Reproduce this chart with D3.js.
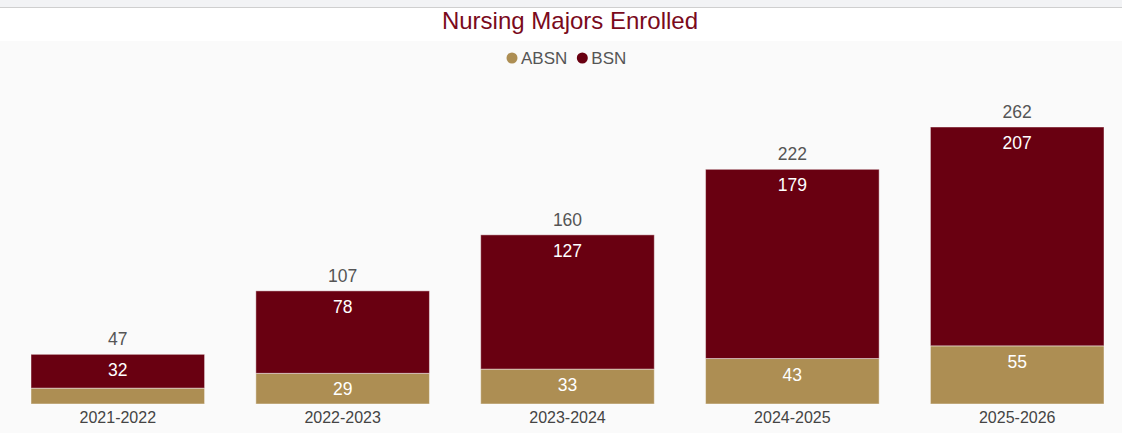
<!DOCTYPE html>
<html>
<head>
<meta charset="utf-8">
<script src="https://cdn.jsdelivr.net/npm/d3@7"></script>
<style>
  body { margin: 0; background: #fff; font-family: "Liberation Sans", Arial, sans-serif; }
</style>
</head>
<body>
<div id="chart"></div>
<script>
// chart data
const years = ["2021-2022", "2022-2023", "2023-2024", "2024-2025", "2025-2026"];
const absn = [15, 29, 33, 43, 55];
const bsn = [32, 78, 127, 179, 207];
const seriesNames = ["ABSN", "BSN"];
const seriesColors = ["#ad8e53", "#690011"];

const W = 1122, H = 433;
const baseY = 404;

const svg = d3.select("#chart")
    .append("svg")
    .attr("width", W)
    .attr("height", H);

// backgrounds
svg.append("rect").attr("x", 0).attr("y", 0).attr("width", W).attr("height", 7).attr("fill", "#f2f3f5");
svg.append("line").attr("x1", 0).attr("x2", W).attr("y1", 7.5).attr("y2", 7.5).attr("stroke", "#cfcfcf");
svg.append("rect").attr("x", 0).attr("y", 8).attr("width", W).attr("height", 33).attr("fill", "#fff");
svg.append("rect").attr("x", 0).attr("y", 41).attr("width", W).attr("height", H - 41).attr("fill", "#fafafa");

// title
svg.append("text")
    .attr("x", 570).attr("y", 29)
    .attr("text-anchor", "middle")
    .attr("fill", "#7a0a1c")
    .style("font-size", "24px")
    .text("Nursing Majors Enrolled");

// legend
const legend = svg.append("g").attr("transform", "translate(512,58)");
let lx = 0;
seriesNames.forEach(function(name, i) {
  legend.append("circle").attr("cx", lx).attr("cy", 0).attr("r", 5.5).attr("fill", seriesColors[i]);
  const t = legend.append("text")
      .attr("x", lx + 9).attr("y", 6)
      .attr("fill", "#555")
      .style("font-size", "17px")
      .text(name);
  lx += 9 + t.node().getComputedTextLength() + 15;
});

// stack
const rows = years.map(function(y, i) { return {year: y, ABSN: absn[i], BSN: bsn[i]}; });
const stacked = d3.stack().keys(seriesNames)(rows);

const x = d3.scaleBand()
    .domain(years)
    .range([31, 1104])
    .paddingInner(0.228)
    .paddingOuter(0);

const y = d3.scaleLinear()
    .domain([0, 262])
    .range([baseY, 127]);

const layers = svg.selectAll("g.layer")
    .data(stacked)
    .enter()
    .append("g")
    .attr("class", "layer")
    .attr("fill", function(d, i) { return seriesColors[i]; });

layers.selectAll("rect")
    .data(function(d) { return d; })
    .enter()
    .append("rect")
    .attr("x", function(d) { return x(d.data.year); })
    .attr("y", function(d) { return y(d[1]); })
    .attr("width", x.bandwidth())
    .attr("height", function(d) { return y(d[0]) - y(d[1]); })
    .attr("stroke", "rgba(255,255,255,0.45)")
    .attr("stroke-width", 1);

// segment labels (skip when segment too small)
layers.selectAll("text")
    .data(function(d) { return d; })
    .enter()
    .filter(function(d) { return y(d[0]) - y(d[1]) > 22; })
    .append("text")
    .attr("x", function(d) { return x(d.data.year) + x.bandwidth() / 2; })
    .attr("y", function(d) { return y(d[1]) + 22; })
    .attr("text-anchor", "middle")
    .attr("fill", "#fff")
    .style("font-size", "17.5px")
    .text(function(d) { return d[1] - d[0]; });

// totals
svg.selectAll("text.total")
    .data(rows)
    .enter()
    .append("text")
    .attr("class", "total")
    .attr("x", function(d) { return x(d.year) + x.bandwidth() / 2; })
    .attr("y", function(d) { return y(d.ABSN + d.BSN) - 9; })
    .attr("text-anchor", "middle")
    .attr("fill", "#555")
    .style("font-size", "17.5px")
    .text(function(d) { return d.ABSN + d.BSN; });

// x axis
const xAxis = svg.append("g")
    .attr("transform", "translate(0," + baseY + ")")
    .call(d3.axisBottom(x).tickSize(0).tickPadding(8));
xAxis.select(".domain").remove();
xAxis.selectAll("text")
    .attr("fill", "#444")
    .style("font-size", "16px")
    .style("font-family", "'Liberation Sans', Arial, sans-serif");
</script>
</body>
</html>
